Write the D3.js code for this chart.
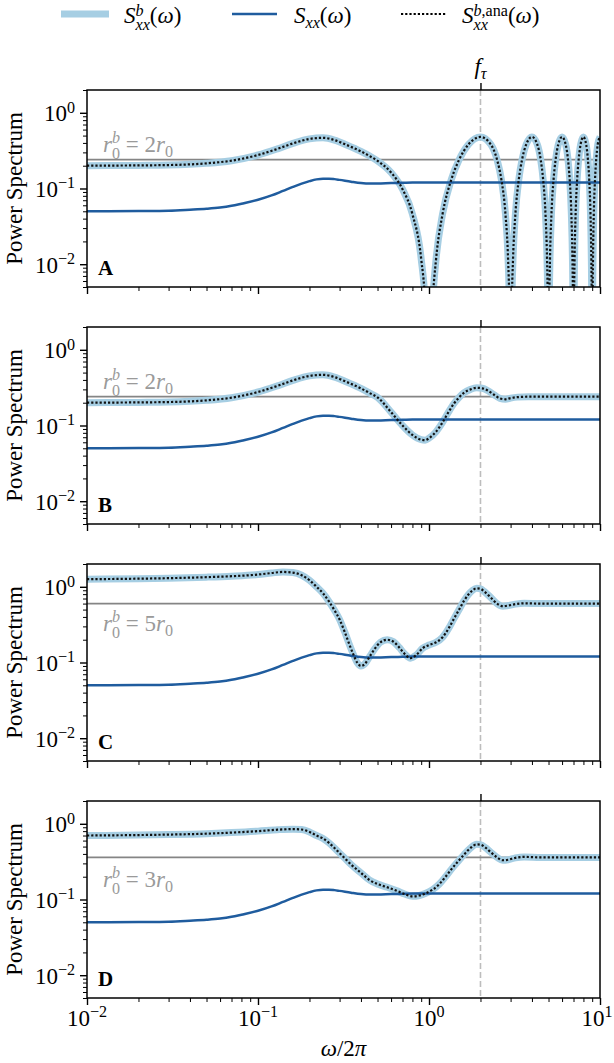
<!DOCTYPE html>
<html>
<head>
<meta charset="utf-8">
<script src="https://cdn.jsdelivr.net/npm/d3@7"></script>
<style>
  body { margin: 0; background: #fff; }
  svg { display: block; }
  svg text { font-family: "Liberation Serif", "DejaVu Serif", serif; }
</style>
</head>
<body>
<svg id="fig" width="614" height="1063"></svg>
<script>

//DATA

// S_xx(w), the same curve in every panel
var freqS = [0.01, 0.02, 0.03, 0.04, 0.05, 0.06, 0.07, 0.08, 0.1, 0.12, 0.14, 0.16, 0.18, 0.2, 0.22, 0.24, 0.26, 0.28, 0.3, 0.35, 0.4, 0.45, 0.5, 0.6, 0.7, 0.8, 1, 2, 5, 10];
var Sxx = [0.05, 0.0505, 0.051, 0.0525, 0.054, 0.056, 0.059, 0.063, 0.071, 0.081, 0.093, 0.105, 0.116, 0.125, 0.132, 0.135, 0.135, 0.133, 0.13, 0.123, 0.118, 0.116, 0.116, 0.118, 0.119, 0.12, 0.12, 0.12, 0.12, 0.12];

// panel A : r0b = 2 r0 (dips below the axis at the odd frequencies)
var freqA = [0.01, 0.02, 0.03, 0.05, 0.07, 0.1, 0.13, 0.16, 0.2, 0.24, 0.28, 0.33, 0.4, 0.45, 0.5, 0.6, 0.7, 0.8, 0.9, 0.95, 1.0,
  1.05, 1.1, 1.2, 1.35, 1.5, 1.7, 2.0, 2.3, 2.5, 2.65, 2.8, 2.9, 2.95, 3.0,
  3.05, 3.1, 3.2, 3.35, 3.5, 3.7, 4.0, 4.3, 4.5, 4.65, 4.8, 4.9, 4.95, 5.0,
  5.05, 5.1, 5.2, 5.35, 5.5, 5.7, 6.0, 6.3, 6.5, 6.65, 6.8, 6.9, 6.95, 7.0,
  7.05, 7.1, 7.2, 7.35, 7.5, 7.7, 8.0, 8.3, 8.5, 8.65, 8.8, 8.9, 8.95, 9.0,
  9.05, 9.1, 9.2, 9.35, 9.5, 9.7, 10.0];
var SbA = [0.2, 0.202, 0.204, 0.215, 0.233, 0.277, 0.334, 0.394, 0.452, 0.467, 0.436, 0.376, 0.309, 0.268, 0.232, 0.163, 0.098, 0.0458, 0.0118, 0.003, 0.0001,
  0.003, 0.0117, 0.0458, 0.131, 0.24, 0.381, 0.48, 0.381, 0.24, 0.131, 0.0458, 0.0117, 0.003, 0.0001,
  0.003, 0.0117, 0.0458, 0.131, 0.24, 0.381, 0.48, 0.381, 0.24, 0.131, 0.0458, 0.0117, 0.003, 0.0001,
  0.003, 0.0117, 0.0458, 0.131, 0.24, 0.381, 0.48, 0.381, 0.24, 0.131, 0.0458, 0.0117, 0.003, 0.0001,
  0.003, 0.0117, 0.0458, 0.131, 0.24, 0.381, 0.48, 0.381, 0.24, 0.131, 0.0458, 0.0117, 0.003, 0.0001,
  0.003, 0.0117, 0.0458, 0.131, 0.24, 0.381, 0.48];

// panel B : r0b = 2 r0
var freqB = [0.01, 0.02, 0.03, 0.05, 0.07, 0.1, 0.13, 0.16, 0.2, 0.24, 0.28, 0.33, 0.4, 0.45, 0.5, 0.6, 0.7, 0.8, 0.9, 0.95, 1.0, 1.1, 1.2, 1.3, 1.4, 1.5, 1.6, 1.75, 1.9, 2.05, 2.2, 2.4, 2.6, 2.8, 3.0, 3.3, 3.8, 5, 7, 10];
var SbB = [0.2, 0.202, 0.204, 0.215, 0.233, 0.277, 0.334, 0.394, 0.452, 0.467, 0.436, 0.376, 0.309, 0.268, 0.235, 0.15, 0.1, 0.075, 0.065, 0.064, 0.068, 0.083, 0.11, 0.15, 0.195, 0.235, 0.27, 0.3, 0.315, 0.31, 0.29, 0.255, 0.228, 0.222, 0.23, 0.237, 0.24, 0.24, 0.24, 0.24];

// panel C : r0b = 5 r0
var freqC = [0.01, 0.02, 0.03, 0.05, 0.07, 0.1, 0.12, 0.14, 0.16, 0.18, 0.2, 0.22, 0.24, 0.26, 0.28, 0.3, 0.32, 0.34, 0.36, 0.38, 0.4, 0.42, 0.45, 0.48, 0.52, 0.57, 0.62, 0.67, 0.72, 0.78, 0.84, 0.92, 1.0, 1.1, 1.2, 1.3, 1.4, 1.5, 1.6, 1.7, 1.8, 1.9, 2.0, 2.1, 2.3, 2.5, 2.7, 2.9, 3.2, 3.6, 4.5, 6, 10];
var SbC = [1.26, 1.28, 1.3, 1.34, 1.38, 1.45, 1.52, 1.57, 1.54, 1.42, 1.22, 1.0, 0.82, 0.64, 0.49, 0.37, 0.26, 0.18, 0.13, 0.1, 0.09, 0.095, 0.12, 0.15, 0.185, 0.2, 0.188, 0.158, 0.13, 0.114, 0.125, 0.155, 0.17, 0.185, 0.215, 0.28, 0.38, 0.5, 0.65, 0.79, 0.9, 0.955, 0.94, 0.87, 0.72, 0.6, 0.555, 0.565, 0.59, 0.605, 0.6, 0.6, 0.6];

// panel D : r0b = 3 r0
var freqD = [0.01, 0.02, 0.03, 0.05, 0.07, 0.1, 0.13, 0.16, 0.18, 0.2, 0.22, 0.24, 0.26, 0.28, 0.3, 0.32, 0.35, 0.4, 0.45, 0.5, 0.57, 0.65, 0.72, 0.8, 0.88, 0.95, 1.05, 1.15, 1.25, 1.35, 1.5, 1.6, 1.75, 1.9, 2.0, 2.15, 2.3, 2.5, 2.7, 2.9, 3.2, 3.6, 4.5, 6, 10];
var SbD = [0.7, 0.71, 0.72, 0.74, 0.765, 0.8, 0.835, 0.85, 0.84, 0.78, 0.7, 0.64, 0.56, 0.48, 0.41, 0.355, 0.29, 0.225, 0.18, 0.16, 0.145, 0.13, 0.118, 0.11, 0.113, 0.12, 0.135, 0.16, 0.2, 0.25, 0.33, 0.39, 0.48, 0.535, 0.53, 0.48, 0.42, 0.36, 0.33, 0.335, 0.355, 0.365, 0.36, 0.36, 0.36];

var panelLetters = ["A", "B", "C", "D"];
var rbFactors = ["2", "2", "5", "3"];
var rbLevels = [0.24, 0.24, 0.6, 0.36];
var fTau = 2;

var xMajor = [1e-2, 1e-1, 1, 10];
var xMajorExp = ["−2", "−1", "0", "1"];
var yMajor = [1e-2, 1e-1, 1];
var yMajorExp = ["−2", "−1", "0"];


//LAYOUT

var svg = d3.select("#fig");
var FS = 23;

var left = 87, right = 600,
    panelH = 197,
    panelTop = [90, 327, 564, 801],
    rbBaseline = [62, 62, 67, 86];

var lightBlue = "#a6cee3", darkBlue = "#1f5c9e";

var x = d3.scaleLog().domain([1e-2, 10]).range([left, right]);
var y = d3.scaleLog().domain([5e-3, 2]).range([panelH, 0]);

var xMinor = [], yMinor = [];
[1e-2, 1e-1, 1].forEach(function(dec) {
  for (var k = 2; k < 10; k++) xMinor.push(k * dec);
});
[1e-3, 1e-2, 1e-1, 1].forEach(function(dec) {
  for (var k = 2; k < 10; k++) {
    var v = +(k * dec).toPrecision(3);
    if (v >= 5e-3 && v <= 2) yMinor.push(v);
  }
});

var line = d3.line()
    .x(function(d) { return x(d[0]); })
    .y(function(d) { return y(d[1]); })
    .curve(d3.curveMonotoneX);

// text with sub/superscripts, parts = [{t, i (italic), s: "sup"|"sub", stack}]
function mathText(parent, px, py, parts, opts) {
  var size = opts.size || FS;
  var raise = opts.raise || 0.38;
  var t = parent.append("text")
      .attr("x", px).attr("y", py)
      .attr("font-size", size)
      .attr("fill", opts.fill || "#000")
      .attr("font-weight", opts.bold ? "bold" : "normal")
      .attr("text-anchor", opts.anchor || "start");
  var cur = 0, supW = 0, subW = 0, stacking = false, prevSup = false;
  parts.forEach(function(p) {
    var sz = p.s ? size * 0.7 : size;
    var off = 0;
    if (p.s == "sup") off = -raise * size;
    if (p.s == "sub") off = (p.stack || stacking) ? 0.3 * size : 0.22 * size;
    var dx = 0;
    if (p.stack) { dx = -supW; stacking = true; subW = 0; }
    else if (stacking && p.s != "sub") { dx = Math.max(0, supW - subW); stacking = false; }
    var ts = t.append("tspan")
        .text(p.t)
        .attr("font-size", sz)
        .attr("font-style", p.i ? "italic" : "normal")
        .attr("dy", off - cur)
        .attr("dx", dx);
    cur = off;
    var w = ts.node().getComputedTextLength();
    if (p.s == "sup") { supW = (prevSup ? supW : 0) + w; prevSup = true; }
    else prevSup = false;
    if (stacking && p.s == "sub") subW += w;
  });
  return t;
}


//LEGEND

var legend = svg.append("g");
var legendItems = [
  {x1: 61, x2: 109, tx: 124, stroke: lightBlue, width: 7, dash: null,
   parts: [{t: "S", i: 1}, {t: "b", i: 1, s: "sup"}, {t: "xx", i: 1, s: "sub", stack: 1}, {t: "("}, {t: "ω", i: 1}, {t: ")"}]},
  {x1: 232, x2: 277, tx: 294, stroke: darkBlue, width: 2.5, dash: null,
   parts: [{t: "S", i: 1}, {t: "xx", i: 1, s: "sub"}, {t: "("}, {t: "ω", i: 1}, {t: ")"}]},
  {x1: 401, x2: 446, tx: 462, stroke: "#000", width: 2.2, dash: "2.2,2",
   parts: [{t: "S", i: 1}, {t: "b", i: 1, s: "sup"}, {t: ",ana", s: "sup"}, {t: "xx", i: 1, s: "sub", stack: 1}, {t: "("}, {t: "ω", i: 1}, {t: ")"}]}
];
legendItems.forEach(function(d) {
  legend.append("line")
      .attr("x1", d.x1).attr("x2", d.x2)
      .attr("y1", 14).attr("y2", 14)
      .attr("stroke", d.stroke)
      .attr("stroke-width", d.width)
      .attr("stroke-dasharray", d.dash);
  mathText(legend, d.tx, 23, d.parts, {size: FS, raise: 0.32});
});

// f_tau above the first panel
mathText(svg, x(fTau), 74, [{t: "f", i: 1}, {t: "τ", i: 1, s: "sub"}], {anchor: "middle"});


//PANELS

var series = [[freqA, SbA], [freqB, SbB], [freqC, SbC], [freqD, SbD]];

panelTop.forEach(function(top, i) {
  var g = svg.append("g").attr("transform", "translate(0," + top + ")");

  g.append("clipPath").attr("id", "clip" + i)
    .append("rect")
      .attr("x", left).attr("y", 0)
      .attr("width", right - left).attr("height", panelH);

  var plot = g.append("g").attr("clip-path", "url(#clip" + i + ")");

  plot.append("line")
      .attr("x1", x(fTau)).attr("x2", x(fTau))
      .attr("y1", 0).attr("y2", panelH)
      .attr("stroke", "#bdbdbd")
      .attr("stroke-width", 1.6)
      .attr("stroke-dasharray", "6,3");

  plot.append("line")
      .attr("x1", left).attr("x2", right)
      .attr("y1", y(rbLevels[i])).attr("y2", y(rbLevels[i]))
      .attr("stroke", "#858585")
      .attr("stroke-width", 1.8);

  var sb = d3.zip(series[i][0], series[i][1]);

  plot.append("path")
      .attr("d", line(sb))
      .attr("fill", "none")
      .attr("stroke", lightBlue)
      .attr("stroke-width", 7)
      .attr("stroke-linejoin", "round");

  plot.append("path")
      .attr("d", line(d3.zip(freqS, Sxx)))
      .attr("fill", "none")
      .attr("stroke", darkBlue)
      .attr("stroke-width", 2.5);

  plot.append("path")
      .attr("d", line(sb))
      .attr("fill", "none")
      .attr("stroke", "#111")
      .attr("stroke-width", 2.2)
      .attr("stroke-dasharray", "2.2,2");

  // frame
  g.append("rect")
      .attr("x", left).attr("y", 0)
      .attr("width", right - left).attr("height", panelH)
      .attr("fill", "none")
      .attr("stroke", "#000")
      .attr("stroke-width", 1.5);

  // ticks
  var axes = [
    g.append("g").attr("transform", "translate(0," + panelH + ")").call(d3.axisBottom(x).tickValues(xMajor).tickSize(7).tickFormat("")),
    g.append("g").attr("transform", "translate(0," + panelH + ")").call(d3.axisBottom(x).tickValues(xMinor).tickSize(4).tickFormat("")),
    g.append("g").attr("transform", "translate(" + left + ",0)").call(d3.axisLeft(y).tickValues(yMajor).tickSize(7).tickFormat("")),
    g.append("g").attr("transform", "translate(" + left + ",0)").call(d3.axisLeft(y).tickValues(yMinor).tickSize(4).tickFormat("")),
    g.append("g").call(d3.axisTop(x).tickValues([fTau]).tickSize(7).tickFormat(""))
  ];
  axes.forEach(function(a, k) {
    a.select(".domain").remove();
    a.selectAll("line").attr("stroke", "#000").attr("stroke-width", (k == 1 || k == 3) ? 1 : 1.4);
  });

  // y tick labels
  yMajor.forEach(function(v, k) {
    mathText(g, 75, y(v) + 8.5, [{t: "10"}, {t: yMajorExp[k], s: "sup"}], {anchor: "end"});
  });

  // y label
  g.append("text")
      .attr("transform", "translate(22," + (panelH / 2) + ") rotate(-90)")
      .attr("text-anchor", "middle")
      .attr("font-size", FS)
      .text("Power Spectrum");

  // r0b annotation
  mathText(g, 103, rbBaseline[i], [
    {t: "r", i: 1}, {t: "b", i: 1, s: "sup"}, {t: "0", s: "sub", stack: 1},
    {t: " = " + rbFactors[i]}, {t: "r", i: 1}, {t: "0", s: "sub"}
  ], {fill: "#9a9a9a"});

  // panel letter
  mathText(g, 98, 185, [{t: panelLetters[i]}], {bold: true, size: 21});

  // x tick labels only on the last panel (last one nudged in from the edge)
  if (i == panelTop.length - 1) {
    xMajor.forEach(function(v, k) {
      var nudge = (k == xMajor.length - 1) ? -3 : 0;
      mathText(g, x(v) + nudge, panelH + 28, [{t: "10"}, {t: xMajorExp[k], s: "sup"}], {anchor: "middle"});
    });
    mathText(g, (left + right) / 2, panelH + 58, [{t: "ω", i: 1}, {t: "/2"}, {t: "π", i: 1}], {anchor: "middle"});
  }
});

</script>
</body>
</html>
